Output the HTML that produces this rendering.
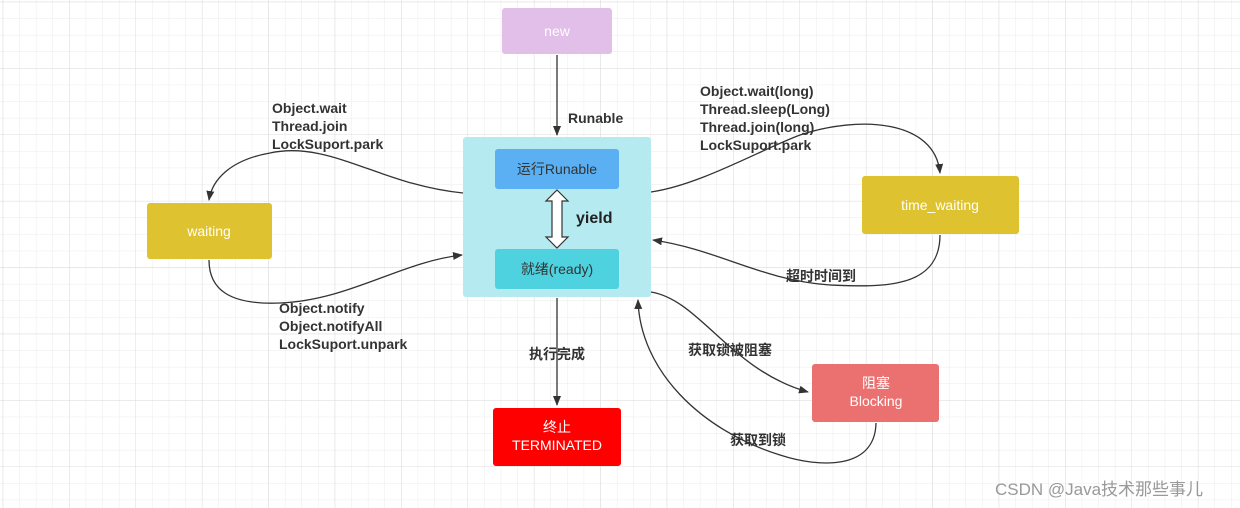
<!DOCTYPE html>
<html><head><meta charset="utf-8"><style>
html,body{margin:0;padding:0;background:#fff}
svg{display:block}
text{font-family:"Liberation Sans","Noto Sans CJK SC",sans-serif}
.l{font-size:14px;fill:#333;font-weight:bold}
.w{fill:#fff;font-size:14px}
</style></head><body>
<svg width="1240" height="508" viewBox="0 0 1240 508" xmlns="http://www.w3.org/2000/svg">
<defs>
<pattern id="g" x="2.7" y="1.7" width="16.6" height="16.6" patternUnits="userSpaceOnUse">
<path d="M0 0H16.6M0 0V16.6" stroke="#ebebeb" stroke-width="1" fill="none"/>
</pattern>
<pattern id="G" x="2.7" y="1.7" width="66.4" height="66.4" patternUnits="userSpaceOnUse">
<path d="M0 0H66.4M0 0V66.4" stroke="#dcdcdc" stroke-width="1" fill="none"/>
</pattern>
<marker id="a" markerWidth="10" markerHeight="10" refX="9" refY="5" orient="auto" markerUnits="userSpaceOnUse"><path d="M0 1L10 5L0 9Z" fill="#333"/></marker>
</defs>
<rect width="1240" height="508" fill="url(#g)"/>
<rect width="1240" height="508" fill="url(#G)"/>
<g fill="none" stroke="#333" stroke-width="1.3">
<path d="M557 55V135" marker-end="url(#a)"/>
<path d="M557 298V405" marker-end="url(#a)"/>
<path d="M463 193C380 185 330 140 270 153C230 160 212 180 209 200" marker-end="url(#a)"/>
<path d="M209 260C209 290 230 305 280 303C350 300 400 262 462 255" marker-end="url(#a)"/>
<path d="M651 192C700 185 760 150 800 135C860 115 935 120 940 173" marker-end="url(#a)"/>
<path d="M940 235C940 290 880 287 830 285C760 280 720 250 653 240" marker-end="url(#a)"/>
<path d="M651 292C700 300 730 370 808 392" marker-end="url(#a)"/>
<path d="M876 423C875 470 820 468 780 455C700 430 640 370 638 300" marker-end="url(#a)"/>
</g>
<rect x="502" y="8" width="110" height="46" rx="3" fill="#e1bfe8"/>
<text x="557" y="36" text-anchor="middle" class="w">new</text>
<rect x="463" y="137" width="188" height="160" rx="3" fill="#b5ebf0"/>
<rect x="495" y="149" width="124" height="40" rx="3" fill="#5ab0f2"/>
<text x="557" y="174" text-anchor="middle" font-size="14" fill="#333">运行Runable</text>
<rect x="495" y="249" width="124" height="40" rx="3" fill="#4fd2e0"/>
<text x="557" y="274" text-anchor="middle" font-size="14" fill="#333">就绪(ready)</text>
<path d="M557 190L568 201H562V237H568L557 248L546 237H552V201H546Z" fill="#fff" stroke="#333" stroke-width="1.2"/>
<text x="576" y="223" font-size="16" font-weight="bold" fill="#222">yield</text>
<rect x="147" y="203" width="125" height="56" rx="3" fill="#dfc22f"/>
<text x="209" y="236" text-anchor="middle" class="w">waiting</text>
<rect x="862" y="176" width="157" height="58" rx="3" fill="#dfc22f"/>
<text x="940" y="210" text-anchor="middle" class="w">time_waiting</text>
<rect x="812" y="364" width="127" height="58" rx="3" fill="#eb7070"/>
<text x="876" y="388" text-anchor="middle" class="w">阻塞</text>
<text x="876" y="406" text-anchor="middle" class="w">Blocking</text>
<rect x="493" y="408" width="128" height="58" rx="3" fill="#ff0000"/>
<text x="557" y="432" text-anchor="middle" class="w">终止</text>
<text x="557" y="450" text-anchor="middle" class="w">TERMINATED</text>
<text x="568" y="123" class="l">Runable</text>
<text class="l"><tspan x="272" y="113">Object.wait</tspan><tspan x="272" y="131">Thread.join</tspan><tspan x="272" y="149">LockSuport.park</tspan></text>
<text class="l"><tspan x="279" y="313">Object.notify</tspan><tspan x="279" y="331">Object.notifyAll</tspan><tspan x="279" y="349">LockSuport.unpark</tspan></text>
<text class="l"><tspan x="700" y="96">Object.wait(long)</tspan><tspan x="700" y="114">Thread.sleep(Long)</tspan><tspan x="700" y="132">Thread.join(long)</tspan><tspan x="700" y="150">LockSuport.park</tspan></text>
<text x="786" y="281" class="l">超时时间到</text>
<text x="529" y="359" class="l">执行完成</text>
<text x="688" y="355" class="l">获取锁被阻塞</text>
<text x="730" y="445" class="l">获取到锁</text>
<text x="995" y="495" font-size="17" fill="#999">CSDN @Java技术那些事儿</text>
</svg>
</body></html>
